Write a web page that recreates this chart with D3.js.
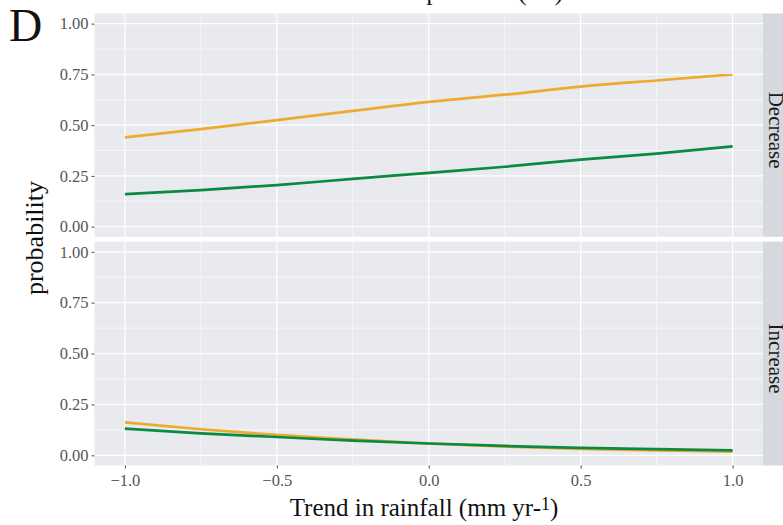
<!DOCTYPE html>
<html>
<head>
<meta charset="utf-8">
<script src="https://cdn.jsdelivr.net/npm/d3@7"></script>
<style>
  body { margin: 0; background: #fff; }
  svg { display: block; font-family: "Liberation Serif", "DejaVu Serif", serif; }
</style>
</head>
<body>
<svg id="chart" width="783" height="525"></svg>
<script>
// data
var rainfall = [-1, -0.75, -0.5, -0.25, 0, 0.25, 0.5, 0.75, 1];
var facets = ["Decrease", "Increase"];
var decreaseOrange = [0.44, 0.48, 0.525, 0.57, 0.615, 0.65, 0.69, 0.72, 0.75];
var decreaseGreen = [0.16, 0.18, 0.205, 0.235, 0.265, 0.295, 0.33, 0.36, 0.395];
var increaseOrange = [0.162, 0.128, 0.10, 0.078, 0.058, 0.043, 0.032, 0.024, 0.018];
var increaseGreen = [0.131, 0.108, 0.09, 0.072, 0.058, 0.046, 0.037, 0.030, 0.024];
var yTicks = [0, 0.25, 0.5, 0.75, 1];
var xTicks = [-1, -0.5, 0, 0.5, 1];

var seriesColors = ["#eeaa2e", "#0b8a42"];
var panelData = {
  Decrease: [decreaseOrange, decreaseGreen],
  Increase: [increaseOrange, increaseGreen]
};

var svg = d3.select("#chart");

var left = 94.5, right = 763;
var panels = [
  { name: "Decrease", top: 13.5, bottom: 236.8 },
  { name: "Increase", top: 241.6, bottom: 465.5 }
];

var x = d3.scaleLinear().domain([-1.1, 1.1]).range([left, right]);

// title (cut off at the top, only descenders show)
svg.append("text")
  .attr("x", 428)
  .attr("y", 0)
  .attr("text-anchor", "middle")
  .attr("font-size", 26)
  .attr("fill", "#1a1a1a")
  .text("Trend in temperature (°C)");

panels.forEach(function (p, i) {
  var y = d3.scaleLinear().domain([-0.05, 1.05]).range([p.bottom, p.top]);
  var g = svg.append("g");

  g.append("rect")
    .attr("x", left).attr("y", p.top)
    .attr("width", right - left).attr("height", p.bottom - p.top)
    .attr("fill", "#e9eaee");

  // minor grid
  var yMinor = d3.range(0.125, 1, 0.25);
  var xMinor = [-0.75, -0.25, 0.25, 0.75];
  g.selectAll(".ymin").data(yMinor).enter().append("line")
    .attr("x1", left).attr("x2", right)
    .attr("y1", function (d) { return y(d); }).attr("y2", function (d) { return y(d); })
    .attr("stroke", "#fff").attr("stroke-width", 0.6);
  g.selectAll(".xmin").data(xMinor).enter().append("line")
    .attr("y1", p.top).attr("y2", p.bottom)
    .attr("x1", function (d) { return x(d); }).attr("x2", function (d) { return x(d); })
    .attr("stroke", "#fff").attr("stroke-width", 0.6);

  // major grid
  g.selectAll(".ymaj").data(yTicks).enter().append("line")
    .attr("x1", left).attr("x2", right)
    .attr("y1", function (d) { return y(d); }).attr("y2", function (d) { return y(d); })
    .attr("stroke", "#fff").attr("stroke-width", 1.2);
  g.selectAll(".xmaj").data(xTicks).enter().append("line")
    .attr("y1", p.top).attr("y2", p.bottom)
    .attr("x1", function (d) { return x(d); }).attr("x2", function (d) { return x(d); })
    .attr("stroke", "#fff").attr("stroke-width", 1.2);

  // lines
  var line = d3.line()
    .x(function (d, j) { return x(rainfall[j]); })
    .y(function (d) { return y(d); })
    .curve(d3.curveMonotoneX);
  panelData[p.name].forEach(function (vals, k) {
    g.append("path")
      .datum(vals)
      .attr("d", line)
      .attr("fill", "none")
      .attr("stroke", seriesColors[k])
      .attr("stroke-width", 2.7);
  });

  // y axis
  var yAxis = d3.axisLeft(y).tickValues(yTicks).tickFormat(d3.format(".2f"))
    .tickSize(3).tickPadding(3);
  var ya = g.append("g").attr("transform", "translate(" + left + ",0)").call(yAxis);
  ya.select(".domain").remove();
  ya.selectAll("line").attr("stroke", "#4d4d4d");
  ya.selectAll("text").attr("font-size", 16.5).attr("fill", "#555")
    .attr("font-family", "Liberation Serif, serif");

  // strip
  g.append("rect")
    .attr("x", right).attr("y", p.top)
    .attr("width", 30).attr("height", p.bottom - p.top)
    .attr("fill", "#d6d8df");
  var cy = (p.top + p.bottom) / 2;
  g.append("text")
    .attr("transform", "translate(776," + (cy + 5) + ") rotate(90)")
    .attr("text-anchor", "middle")
    .attr("dominant-baseline", "central")
    .attr("font-size", 21)
    .attr("fill", "#1a1a1a")
    .text(p.name);

  if (i === panels.length - 1) {
    var xAxis = d3.axisBottom(x).tickValues(xTicks).tickFormat(d3.format(".1f"))
      .tickSize(3).tickPadding(6);
    var xa = g.append("g").attr("transform", "translate(0," + p.bottom + ")").call(xAxis);
    xa.select(".domain").remove();
    xa.selectAll("line").attr("stroke", "#4d4d4d");
    xa.selectAll("text").attr("font-size", 16.5).attr("fill", "#555")
      .attr("font-family", "Liberation Serif, serif");
  }
});

// panel letter
svg.append("text")
  .attr("x", 9).attr("y", 41)
  .attr("font-size", 46)
  .attr("fill", "#111")
  .text("D");

// y label
svg.append("text")
  .attr("transform", "translate(43,238) rotate(-90)")
  .attr("text-anchor", "middle")
  .attr("font-size", 26)
  .attr("fill", "#111")
  .text("probability");

// x label
var xl = svg.append("text")
  .attr("x", 424).attr("y", 516)
  .attr("text-anchor", "middle")
  .attr("font-size", 25)
  .attr("fill", "#111");
xl.append("tspan").text("Trend in rainfall (mm yr-");
xl.append("tspan").attr("font-size", 18).attr("dy", -6).text("1");
xl.append("tspan").attr("dy", 6).text(")");
</script>
</body>
</html>
